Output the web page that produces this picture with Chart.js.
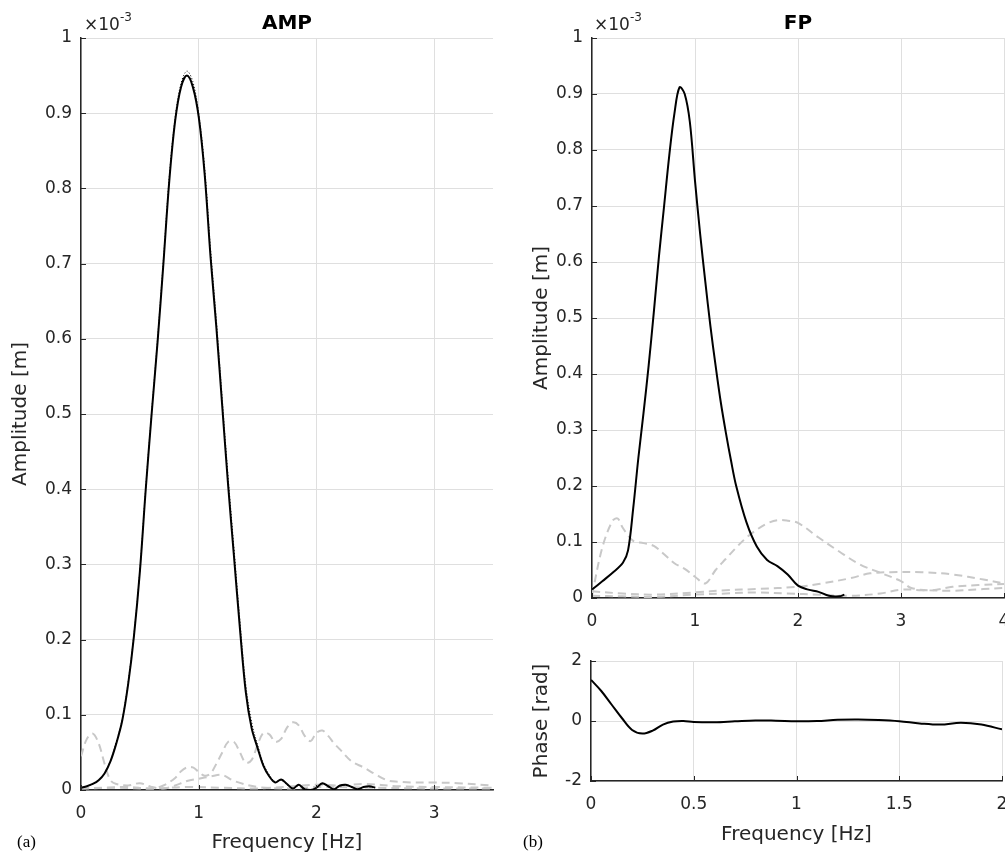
<!DOCTYPE html>
<html>
<head>
<meta charset="utf-8">
<script src="https://cdn.jsdelivr.net/npm/chart.js@4"></script>
<style>
  body { margin:0; background:#fff; width:1005px; height:856px; position:relative; overflow:hidden; font-family:'DejaVu Sans', Arial, sans-serif; color:#262626; }
  canvas { position:absolute; }
  .lbl { position:absolute; white-space:nowrap; }
  .ttl { font-weight:bold; font-size:20px; color:#000; transform:translateX(-50%); }
  .exp { font-size:17px; }
  .exp sup { font-size:12px; position:relative; top:-2px; }
  .pan { font-family:'Liberation Serif', 'Times New Roman', serif; font-size:17px; color:#000; }
</style>
</head>
<body>
<canvas id="ampChart" style="left:0;top:0;"></canvas>
<canvas id="fpChart" style="left:510px;top:0;"></canvas>
<canvas id="phaseChart" style="left:510px;top:640px;"></canvas>

<div class="lbl ttl" style="left:287px;top:10px;">AMP</div>
<div class="lbl ttl" style="left:798px;top:10px;">FP</div>
<div class="lbl exp" style="left:84px;top:12px;">×10<sup>-3</sup></div>
<div class="lbl exp" style="left:594px;top:12px;">×10<sup>-3</sup></div>
<div class="lbl pan" style="left:17px;top:832px;">(a)</div>
<div class="lbl pan" style="left:523px;top:832px;">(b)</div>

<script>
// ---- (a) AMP panel, amplitude in units of 1e-3 m ----
const ampFreqBlack = [0,0.05,0.1,0.15,0.2,0.25,0.3,0.35,0.4,0.45,0.5,0.55,0.6,0.65,0.7,0.75,0.8,0.85,0.9,0.95,1.0,1.05,1.1,1.15,1.2,1.25,1.3,1.35,1.4,1.45,1.5,1.55,1.6,1.65,1.7,1.75,1.8,1.85,1.9,1.95,2.0,2.05,2.1,2.15,2.2,2.25,2.3,2.35,2.4,2.45,2.5];
const ampBlack = [0.003,0.005,0.008,0.013,0.022,0.038,0.062,0.092,0.14,0.205,0.29,0.40,0.50,0.595,0.70,0.81,0.89,0.935,0.95,0.935,0.895,0.82,0.71,0.615,0.51,0.405,0.31,0.215,0.13,0.082,0.056,0.032,0.018,0.01,0.014,0.008,0.002,0.007,0.001,0.0,0.003,0.009,0.005,0.001,0.006,0.007,0.004,0.001,0.004,0.005,0.003];
const ampDotted = [0.003,0.005,0.008,0.013,0.022,0.039,0.064,0.094,0.143,0.208,0.292,0.402,0.503,0.6,0.705,0.815,0.895,0.94,0.956,0.942,0.9,0.828,0.72,0.625,0.52,0.415,0.32,0.225,0.14,0.09,0.06,0.035,0.02,0.011,0.013,0.007,0.002,0.006,0.001,0.0,0.003,0.008,0.005,0.001,0.005,0.006,0.004,0.001,0.004,0.004,0.003];

const ampFreqGray1 = [0,0.05,0.1,0.15,0.2,0.25,0.3,0.4,0.5,0.6,0.7,0.8,0.9,1.0,1.1,1.2,1.3,1.5,1.8,2.0,2.5,3.0,3.5];
const ampGray1 = [0.045,0.068,0.075,0.062,0.035,0.013,0.008,0.006,0.009,0.004,0.002,0.006,0.012,0.015,0.018,0.02,0.012,0.004,0.002,0.004,0.003,0.002,0.002];
const ampFreqGray2 = [0,0.2,0.4,0.6,0.7,0.8,0.85,0.9,0.95,1.0,1.05,1.1,1.15,1.2,1.25,1.3,1.35,1.4,1.45,1.5,1.55,1.6,1.65,1.7,1.75,1.8,1.85,1.9,1.95,2.0,2.05,2.1,2.15,2.2,2.3,2.4,2.5,2.6,2.7,2.8,3.0,3.2,3.5];
const ampGray2 = [0.002,0.003,0.004,0.002,0.006,0.016,0.025,0.03,0.03,0.024,0.019,0.022,0.035,0.05,0.064,0.064,0.05,0.036,0.04,0.06,0.076,0.074,0.064,0.068,0.083,0.09,0.086,0.072,0.065,0.076,0.079,0.072,0.062,0.054,0.038,0.03,0.021,0.013,0.011,0.01,0.01,0.009,0.006];
const ampFreqGray3 = [0,0.3,0.6,0.9,1.2,1.5,1.8,2.0,2.2,2.4,2.7,3.0,3.5];
const ampGray3 = [0.002,0.003,0.002,0.004,0.003,0.002,0.005,0.007,0.006,0.008,0.005,0.004,0.003];

// ---- (b) FP panel ----
const fpFreqBlack = [0,0.1,0.2,0.3,0.35,0.4,0.45,0.5,0.55,0.6,0.65,0.7,0.75,0.8,0.85,0.9,0.95,1.0,1.05,1.1,1.15,1.2,1.25,1.3,1.35,1.4,1.5,1.6,1.7,1.8,1.9,2.0,2.1,2.2,2.3,2.4,2.45];
const fpBlack = [0.015,0.03,0.045,0.063,0.085,0.16,0.25,0.33,0.415,0.51,0.61,0.70,0.79,0.865,0.912,0.9,0.85,0.745,0.65,0.565,0.485,0.415,0.35,0.295,0.245,0.20,0.135,0.092,0.068,0.057,0.042,0.022,0.015,0.011,0.004,0.003,0.006];

const fpFreqGray1 = [0,0.1,0.2,0.25,0.3,0.4,0.5,0.6,0.7,0.8,0.9,1.0,1.1,1.2,1.3,1.4,1.5,1.6,1.7,1.8,1.9,2.0,2.2,2.4,2.6,2.8,3.0,3.1,3.3,3.5,3.75,4.0];
const fpGray1 = [0.005,0.09,0.138,0.142,0.125,0.102,0.098,0.093,0.078,0.062,0.052,0.038,0.026,0.05,0.07,0.09,0.108,0.122,0.133,0.139,0.138,0.134,0.108,0.083,0.06,0.045,0.03,0.018,0.014,0.02,0.023,0.025];
const fpFreqGray2 = [0,0.3,0.6,1.0,1.3,1.6,2.0,2.2,2.5,2.7,2.9,3.2,3.5,3.8,4.0];
const fpGray2 = [0.012,0.008,0.006,0.01,0.014,0.016,0.02,0.025,0.035,0.044,0.046,0.046,0.042,0.033,0.026];
const fpFreqGray3 = [0,0.3,0.6,1.0,1.3,1.6,1.9,2.2,2.5,2.8,3.0,3.2,3.5,3.8,4.0];
const fpGray3 = [0.004,0.003,0.002,0.006,0.008,0.01,0.008,0.006,0.004,0.008,0.015,0.014,0.013,0.016,0.018];

// ---- phase panel ----
const phaseFreq = [0,0.05,0.1,0.15,0.2,0.25,0.3,0.35,0.4,0.45,0.5,0.6,0.7,0.8,0.9,1.0,1.1,1.2,1.3,1.4,1.5,1.6,1.7,1.8,1.9,2.0];
const phase = [1.37,1.0,0.55,0.1,-0.3,-0.42,-0.32,-0.12,-0.02,0.0,-0.03,-0.04,-0.01,0.02,0.01,-0.01,0.0,0.04,0.05,0.03,-0.01,-0.08,-0.12,-0.06,-0.12,-0.28];

const ampTicks = [0,0.1,0.2,0.3,0.4,0.5,0.6,0.7,0.8,0.9,1];

const AXIS = '#262626';
const GRID = '#dfdfdf';
const GRAY = '#c8c8c8';
const FONT = "'DejaVu Sans', Arial, sans-serif";

const pts = (xs, ys) => xs.map((x, i) => ({ x: x, y: ys[i] }));
const fmt = v => String(+Number(v).toFixed(2));

function solid(xs, ys) {
  return { data: pts(xs, ys), borderColor: '#000', borderWidth: 2, pointRadius: 0, tension: 0.35, order: 0 };
}
function dotted(xs, ys) {
  return { data: pts(xs, ys), borderColor: '#000', borderWidth: 1, borderDash: [1, 2], pointRadius: 0, tension: 0.35, order: 1 };
}
function dashed(xs, ys) {
  return { data: pts(xs, ys), borderColor: GRAY, borderWidth: 2, borderDash: [8, 5], pointRadius: 0, tension: 0.35, order: 2 };
}

// small inward tick marks like the original figure
const innerTicks = {
  id: 'innerTicks',
  afterDatasetsDraw(chart) {
    const { ctx, chartArea: a, scales: { x, y } } = chart;
    ctx.save();
    ctx.strokeStyle = AXIS;
    ctx.lineWidth = 1;
    ctx.beginPath();
    x.ticks.forEach(t => { const p = Math.round(x.getPixelForValue(t.value)) + 0.5; ctx.moveTo(p, a.bottom); ctx.lineTo(p, a.bottom - 5); });
    y.ticks.forEach(t => { const p = Math.round(y.getPixelForValue(t.value)) + 0.5; ctx.moveTo(a.left, p); ctx.lineTo(a.left + 5, p); });
    ctx.stroke();
    ctx.restore();
  }
};

function makeChart(id, w, h, datasets, o) {
  const cv = document.getElementById(id);
  cv.width = w; cv.height = h;
  cv.style.width = w + 'px'; cv.style.height = h + 'px';
  return new Chart(cv, {
    type: 'line',
    data: { datasets: datasets },
    plugins: [innerTicks],
    options: {
      responsive: false,
      animation: false,
      layout: { padding: o.pad },
      plugins: { legend: { display: false }, tooltip: { enabled: false } },
      scales: {
        x: {
          type: 'linear', min: o.xMin, max: o.xMax,
          afterFit: s => { s.height = o.xH; s.paddingLeft = 0; s.paddingRight = 0; },
          grid: { color: GRID, drawTicks: false },
          border: { color: AXIS, width: 1.5 },
          ticks: { stepSize: o.xStep, includeBounds: false, padding: 13, color: AXIS, font: { family: FONT, size: 17 }, maxRotation: 0, callback: fmt },
          title: o.xTitle ? { display: true, text: o.xTitle, color: AXIS, font: { family: FONT, size: 20 }, padding: { top: 0, bottom: o.xTitlePad } } : { display: false }
        },
        y: {
          type: 'linear', min: o.yMin, max: o.yMax,
          afterFit: s => { s.width = o.yW; s.paddingTop = 0; s.paddingBottom = 0; },
          afterBuildTicks: o.yTicks ? (s => { s.ticks = o.yTicks.map(v => ({ value: v })); }) : undefined,
          grid: { color: GRID, drawTicks: false },
          border: { color: AXIS, width: 1.5 },
          ticks: { stepSize: o.yStep, padding: 9, color: AXIS, font: { family: FONT, size: 17 }, callback: fmt },
          title: { display: true, text: o.yTitle, color: AXIS, font: { family: FONT, size: 20 }, padding: { top: o.yTitlePad, bottom: 0 } }
        }
      }
    }
  });
}

makeChart('ampChart', 500, 856, [
  dashed(ampFreqGray1, ampGray1),
  dashed(ampFreqGray2, ampGray2),
  dashed(ampFreqGray3, ampGray3),
  dotted(ampFreqBlack, ampDotted),
  solid(ampFreqBlack, ampBlack)
], {
  pad: { top: 38, right: 7, bottom: 0, left: 0 },
  xMin: 0, xMax: 3.5, xStep: 1, xH: 66, xTitle: 'Frequency [Hz]', xTitlePad: 1,
  yMin: 0, yMax: 1, yStep: 0.1, yTicks: ampTicks, yW: 81, yTitle: 'Amplitude [m]', yTitlePad: 9
});

makeChart('fpChart', 495, 640, [
  dashed(fpFreqGray1, fpGray1),
  dashed(fpFreqGray2, fpGray2),
  dashed(fpFreqGray3, fpGray3),
  solid(fpFreqBlack, fpBlack)
], {
  pad: { top: 38, right: 1, bottom: 0, left: 0 },
  xMin: 0, xMax: 4, xStep: 1, xH: 42, xTitle: null,
  yMin: 0, yMax: 1, yStep: 0.1, yTicks: ampTicks, yW: 82, yTitle: 'Amplitude [m]', yTitlePad: 20
});

makeChart('phaseChart', 495, 216, [
  solid(phaseFreq, phase)
], {
  pad: { top: 21, right: 3, bottom: 0, left: 0 },
  xMin: 0, xMax: 2, xStep: 0.5, xH: 75, xTitle: 'Frequency [Hz]', xTitlePad: 9,
  yMin: -2, yMax: 2, yStep: 2, yW: 81, yTitle: 'Phase [rad]', yTitlePad: 20
});
</script>
</body>
</html>
